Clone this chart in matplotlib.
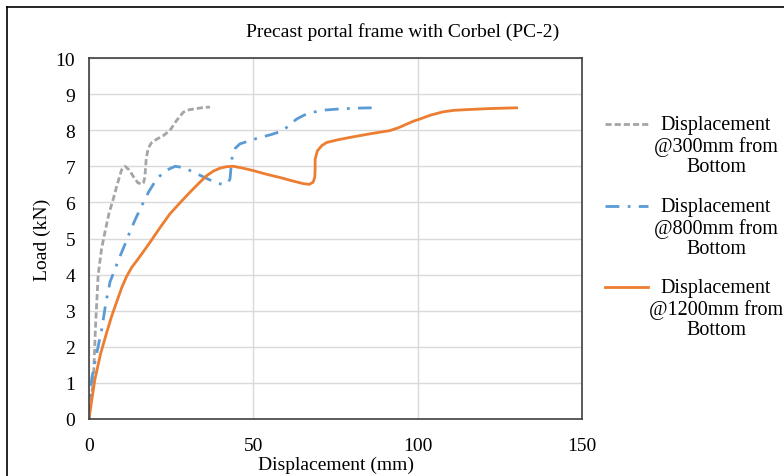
import numpy as np
import matplotlib
matplotlib.use('Agg')
import matplotlib.pyplot as plt
from matplotlib.lines import Line2D

plt.rcParams['font.family'] = ['Liberation Serif', 'DejaVu Serif']

# 300mm from bottom (grey dashed)
x300 = [0, 0.5, 1.3, 2.0, 2.8, 3.8, 4.9, 6.1, 7.4, 8.6, 9.9, 11.0, 12.2, 13.4, 14.8, 16.0, 16.6, 17.0, 17.4, 18.0, 19.0, 20.6, 22.6, 24.6, 26.5, 28.7, 30.6, 32.8, 34.8, 36.8]
y300 = [0, 0.5, 1.0, 2.6, 4.0, 4.7, 5.2, 5.7, 6.1, 6.5, 6.9, 7.0, 6.9, 6.73, 6.55, 6.5, 6.55, 6.7, 7.2, 7.5, 7.65, 7.75, 7.85, 7.99, 8.25, 8.5, 8.57, 8.6, 8.63, 8.64]

# 800mm from bottom (blue dash-dot)
x800 = [0, 0.8, 2.3, 3.9, 5.1, 6.4, 7.9, 9.4, 11.0, 12.5, 14.2, 16.0, 18.2, 20.6, 23.3, 26.2, 29.0, 31.7, 34.5, 37.3, 39.5, 40.8, 42.2, 42.9, 43.2, 43.6, 44.5, 45.9, 48.5, 52.0, 55.5, 59.1, 61.0, 63.2, 65.5, 68.2, 72.0, 76.4, 81.0, 86.0]
y800 = [0, 1.1, 1.8, 2.5, 3.2, 3.8, 4.15, 4.5, 4.85, 5.2, 5.55, 5.9, 6.3, 6.65, 6.88, 7.0, 6.96, 6.84, 6.72, 6.6, 6.52, 6.5, 6.53, 6.65, 6.95, 7.3, 7.5, 7.62, 7.7, 7.8, 7.88, 7.99, 8.15, 8.31, 8.42, 8.5, 8.56, 8.59, 8.61, 8.62]

# 1200mm from bottom (orange solid)
x1200 = [0, 0.8, 1.8, 3.5, 5.4, 6.9, 8.4, 10.0, 11.5, 13.0, 14.5, 16.5, 18.6, 21.6, 24.6, 27.6, 30.7, 33.3, 35.8, 37.9, 39.9, 41.9, 43.9, 46.8, 50.0, 54.0, 58.1, 61.7, 65.2, 67.0, 68.2, 68.7, 68.8, 68.8, 69.5, 70.8, 72.3, 75.5, 79.4, 85.5, 91.6, 94.2, 96.7, 98.7, 100.7, 104.0, 107.8, 111.0, 114.9, 122.0, 130.1]
y1200 = [0, 0.5, 1.1, 1.8, 2.4, 2.85, 3.24, 3.65, 3.96, 4.2, 4.38, 4.63, 4.9, 5.3, 5.68, 5.98, 6.28, 6.52, 6.74, 6.87, 6.95, 6.99, 7.0, 6.95, 6.88, 6.78, 6.69, 6.6, 6.52, 6.5, 6.56, 6.7, 6.93, 7.2, 7.43, 7.57, 7.66, 7.73, 7.8, 7.9, 7.99, 8.07, 8.17, 8.25, 8.31, 8.42, 8.51, 8.55, 8.57, 8.6, 8.62]

labels = ['Displacement\n@300mm from\nBottom',
          'Displacement\n@800mm from\nBottom',
          'Displacement\n@1200mm from\nBottom']
colors = ['#A5A5A5', '#5B9BD5', '#ED7D31']
styles = [(0, (2.2, 1.1)), (0, (5, 3, 1, 3)), '-']
xticks = [0, 50, 100, 150]
yticks = list(range(0, 11))

W, H = 784, 477
fig = plt.figure(figsize=(W / 100, H / 100), dpi=100)
ax = fig.add_axes([89 / W, 1 - 420 / H, (582 - 89) / W, (420 - 59) / H])

series = [(x300, y300), (x800, y800), (x1200, y1200)]
for (xs, ys), c, st in zip(series, colors, styles):
    ax.plot(xs, ys, color=c, lw=2.0, ls=st)

ax.set_xlim(0, 150)
ax.set_ylim(0, 10)
ax.set_xticks(xticks)
ax.set_yticks(yticks)
ax.grid(True, color='#D9D9D9', lw=1.0)
ax.set_axisbelow(True)
ax.tick_params(axis='x', length=0, labelsize=14, pad=13)
ax.tick_params(axis='y', length=0, labelsize=14, pad=10)
for s in ax.spines.values():
    s.set_color('#404040')
    s.set_linewidth(1.2)

ax.set_xlabel('Displacement (mm)', fontsize=14, labelpad=1)
ax.set_ylabel('Load (kN)', fontsize=14, labelpad=3)
fig.text(403 / W, 1 - 32 / H, 'Precast portal frame with Corbel (PC-2)',
         fontsize=14, ha='center', va='center')

# legend drawn by hand: handle level with first text line
leg_y = [125, 207, 288]
for y, lab, c, st in zip(leg_y, labels, colors, styles):
    fig.add_artist(Line2D([605 / W, 648 / W], [1 - y / H, 1 - y / H],
                          color=c, lw=2.0, ls=st))
    fig.text(716 / W, 1 - (y - 9) / H, lab, fontsize=14.5, ha='center',
             va='top', multialignment='center', linespacing=1.12)

# outer frame of the original picture
fig.add_artist(Line2D([7 / W, 7 / W], [0, 1 - 8 / H], color='black', lw=1.2))
fig.add_artist(Line2D([7 / W, 1], [1 - 8 / H, 1 - 8 / H], color='black', lw=1.2))

fig.savefig('out.png', dpi=100)
